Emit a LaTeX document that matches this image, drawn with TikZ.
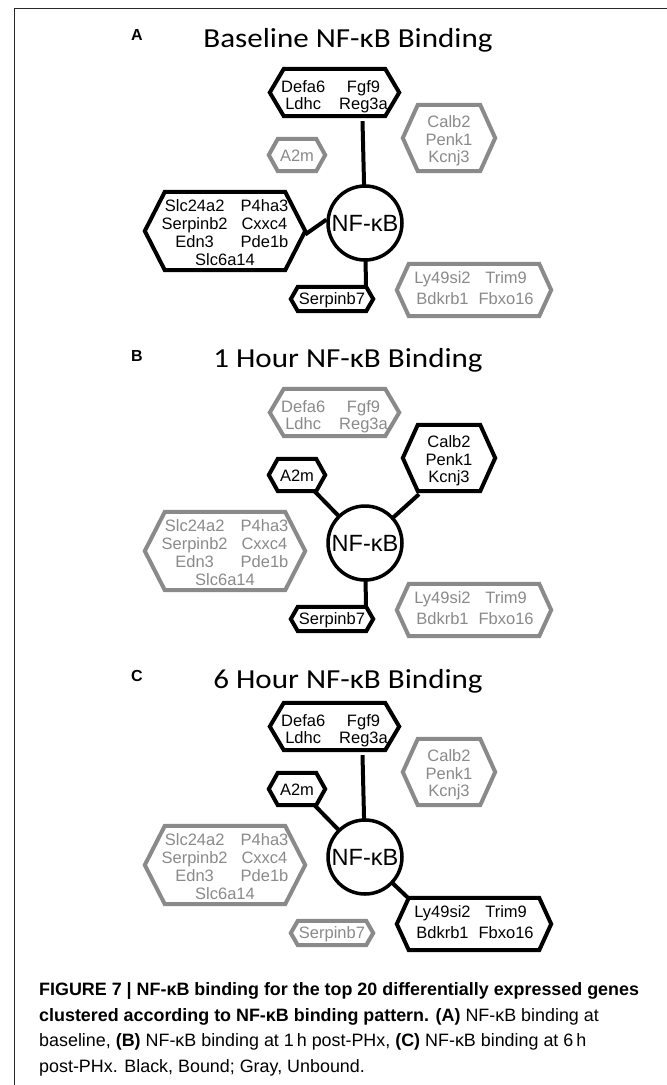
\documentclass[tikz,border=0pt]{standalone}
\usepackage{fontspec}
\setmainfont{Liberation Sans}
\newfontfamily\titlefont[FakeStretch=1.13]{Carlito}
\usetikzlibrary{calc}
\pgfdeclarelayer{background}
\pgfdeclarelayer{middle}
\pgfsetlayers{background,middle,main}
\definecolor{unb}{RGB}{138,138,138}
\definecolor{frame}{RGB}{40,40,40}
\newcommand\genefont{\fontsize{16.5}{17.5}\selectfont}
\tikzset{
  genebox/.style={rectangle, inner sep=0pt, font=\genefont, align=center},
  hexline/.style={line width=4pt, fill=white, line join=miter},
  conn/.style={line width=4pt, black},
  hub/.style={circle, draw=black, line width=3.5pt, fill=white, minimum size=74pt, inner sep=0pt, font=\fontsize{23.5}{25}\selectfont},
  paneltitle/.style={anchor=base, inner sep=0pt, font=\titlefont\fontsize{27.5}{30}\selectfont},
  panellabel/.style={anchor=base, inner sep=0pt, font=\bfseries\fontsize{16}{18}\selectfont},
  capline/.style={anchor=base west, inner sep=0pt, font=\fontsize{17.9}{20}\selectfont}
}
% #1 name, #2 position, #3 width, #4 height, #5 inset, #6 colour, #7 text drop, #8 text
\newcommand{\genehex}[8]{%
  \node[genebox, text=#6, minimum width=#3, minimum height=#4, yshift=-#7] (#1) at #2 {#8};
  \begin{pgfonlayer}{middle}
    \draw[hexline, draw=#6] ([xshift=#5,yshift=#7]#1.north west) -- ([xshift=-#5,yshift=#7]#1.north east)
      -- ([yshift=#7]#1.east) -- ([xshift=-#5,yshift=#7]#1.south east)
      -- ([xshift=#5,yshift=#7]#1.south west) -- ([yshift=#7]#1.west) -- cycle;
  \end{pgfonlayer}}
% #1 prefix, #2 y offset, #3 top, #4 a2m, #5 calb, #6 slc, #7 serpinb7, #8 ly
\newcommand{\panel}[8]{%
  \genehex{#1top}{(334.5,92.5+#2)}{129}{47}{14}{#3}{5}{\begin{tabular}{@{}c@{\hspace{14pt}}c@{}}Defa6&Fgf9\\Ldhc&Reg3a\end{tabular}}
  \genehex{#1a2m}{(297,155+#2)}{56}{32}{9}{#4}{0.5}{A2m}
  \genehex{#1calb}{(449,138+#2)}{92}{66}{15}{#5}{3}{Calb2\\Penk1\\Kcnj3}
  \genehex{#1slc}{(225,231+#2)}{160}{78}{20}{#6}{3.5}{\fontsize{16.5}{18}\selectfont\begin{tabular}{@{}c@{\hspace{13pt}}c@{}}Slc24a2&P4ha3\\Serpinb2&Cxxc4\\Edn3&Pde1b\\\multicolumn{2}{c}{Slc6a14}\end{tabular}}
  \genehex{#1sb7}{(332,299+#2)}{82}{24}{7}{#7}{1.5}{Serpinb7}
  \genehex{#1ly}{(474,290+#2)}{154}{52}{12}{#8}{0}{\begin{tabular}{@{}c@{\hspace{8pt}}c@{}}Ly49si2&Trim9\\[3.5pt]Bdkrb1&Fbxo16\end{tabular}}
  \node[hub] (#1hub) at (365,223+#2) {NF-κB};}
\begin{document}
\begin{tikzpicture}[x=1pt, y=-1pt]
\useasboundingbox (0,0) rectangle (667,1085);
\begin{pgfonlayer}{background}
  \fill[white] (0,0) rectangle (667,1085);
\end{pgfonlayer}
\draw[line width=1pt, frame] (14,1085) -- (14,8) -- (667,8);

% Panel A
\node[panellabel] (labA) at (137,40) {A};
\node[paneltitle] (titA) at (348,47) {Baseline NF-κB Binding};
\panel{A}{0}{black}{unb}{unb}{black}{black}{unb}
\begin{pgfonlayer}{background}
  \draw[conn] (Ahub.center) -- ([xshift=28]Atop.south);
  \draw[conn] (Aslc.east) -- (Ahub.175);
  \draw[conn] (Ahub.center) -- ([xshift=34]Asb7.north);
\end{pgfonlayer}

% Panel B
\node[panellabel] (labB) at (137,361) {B};
\node[paneltitle] (titB) at (348,367) {1 Hour NF-κB Binding};
\panel{B}{320}{unb}{black}{black}{unb}{black}{unb}
\begin{pgfonlayer}{background}
  \draw[conn] (Bhub.center) -- ([xshift=18]Ba2m.south);
  \draw[conn] (Bhub.center) -- ([xshift=-30]Bcalb.south);
  \draw[conn] (Bhub.center) -- ([xshift=34]Bsb7.north);
\end{pgfonlayer}

% Panel C
\node[panellabel] (labC) at (137,681) {C};
\node[paneltitle] (titC) at (348,688) {6 Hour NF-κB Binding};
\panel{C}{634}{black}{black}{unb}{unb}{unb}{black}
\begin{pgfonlayer}{background}
  \draw[conn] (Chub.center) -- ([xshift=28]Ctop.south);
  \draw[conn] (Chub.center) -- ([xshift=18]Ca2m.south);
  \draw[conn] (Chub.center) -- ([xshift=-66]Cly.north);
\end{pgfonlayer}

% Caption
\node[capline] (cap1) at (39,995.5) {\textbf{FIGURE 7 | NF-κB binding for the top 20 differentially expressed genes}};
\node[capline] (cap2) at (39,1021) {\textbf{clustered according to NF-κB binding pattern. (A)} NF-κB binding at};
\node[capline] (cap3) at (39,1046.5) {baseline, \textbf{(B)} NF-κB binding at 1\,h post-PHx, \textbf{(C)} NF-κB binding at 6\,h};
\node[capline] (cap4) at (39,1072) {post-PHx. Black, Bound; Gray, Unbound.};
\end{tikzpicture}
\end{document}
